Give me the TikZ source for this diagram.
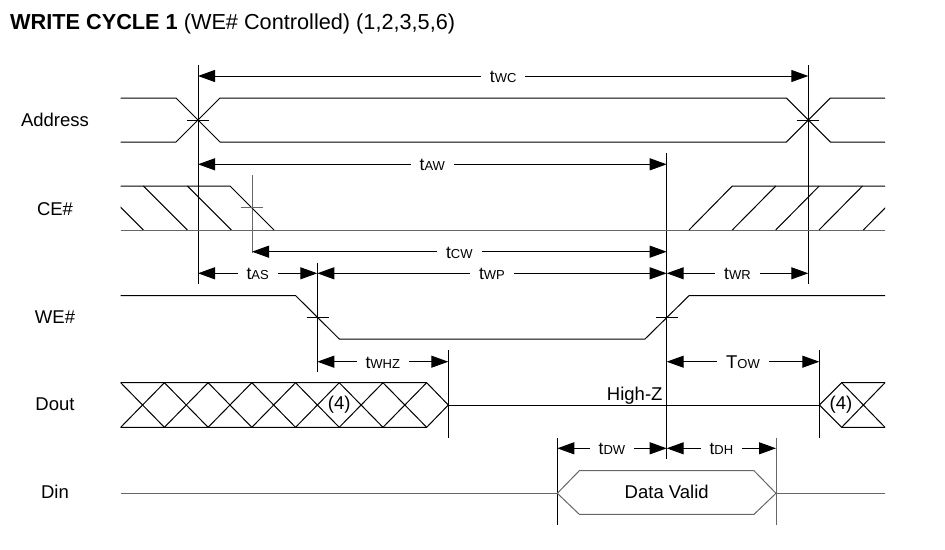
\documentclass[tikz,border=0pt]{standalone}
\usepackage{fontspec}
\setmainfont{Liberation Sans}
\usetikzlibrary{arrows.meta}
\newcommand\tlab[2]{{\fontsize{17.5}{17.5}\selectfont #1}{\fontsize{13}{13}\selectfont #2}}
\begin{document}
\begin{tikzpicture}[x=1pt,y=-1pt,
  sig/.style={line width=1pt,line join=miter},
  gsig/.style={line width=1pt,draw=black!60},
  dimarrow/.style={line width=1pt,{Triangle[length=17pt,width=12pt]}-{Triangle[length=17pt,width=12pt]}},
  tl/.style={fill=white,inner xsep=9pt,inner ysep=1pt,anchor=base,yshift=-6.3pt},
  siglbl/.style={font=\fontsize{18.5}{18.5}\selectfont,anchor=base,inner sep=0pt},
  txt/.style={font=\fontsize{18.5}{18.5}\selectfont,inner sep=0pt},
  guide/.style={line width=1pt},
  gguide/.style={line width=1pt,draw=black!60}]
\useasboundingbox (0,0) rectangle (945,549);

% title
\node[anchor=base west,inner sep=0pt] (title) at (10,29.3)
  {\fontsize{21.7}{21.7}\selectfont\textbf{WRITE CYCLE 1} (WE\# Controlled) (1,2,3,5,6)};

% signal names
\node[siglbl] (lAddr) at (55,126) {Address};
\node[siglbl] (lCE) at (55,215) {CE\#};
\node[siglbl] (lWE) at (55,323.3) {WE\#};
\node[siglbl] (lDout) at (55,410) {Dout};
\node[siglbl] (lDin) at (55,498.3) {Din};

% key time coordinates
\coordinate (wcL) at (198,76);      \coordinate (wcR) at (808.3,76);
\coordinate (awL) at (198,164.3);   \coordinate (awR) at (666.7,164.3);
\coordinate (cwL) at (252,251.7);   \coordinate (cwR) at (666.7,251.7);
\coordinate (asL) at (198,273.3);   \coordinate (asR) at (317.3,273.3);
\coordinate (wpL) at (317.3,273.3); \coordinate (wpR) at (666.7,273.3);
\coordinate (wrL) at (666.7,273.3); \coordinate (wrR) at (808.3,273.3);
\coordinate (hzL) at (317.3,361.7); \coordinate (hzR) at (448.3,361.7);
\coordinate (owL) at (666.7,361.7); \coordinate (owR) at (819.3,361.7);
\coordinate (dwL) at (557.3,448.3); \coordinate (dwR) at (666.7,448.3);
\coordinate (dhL) at (666.7,448.3); \coordinate (dhR) at (776,448.3);

% vertical guide lines
\draw[guide] (198,65) -- (198,284);
\draw[guide] (808.3,65) -- (808.3,284);
\draw[guide] (666.7,153) -- (666.7,459);
\draw[gguide] (252,175) -- (252,253);
\draw[guide] (317.3,262.7) -- (317.3,372);
\draw[guide] (448.3,350) -- (448.3,438.3);
\draw[guide] (819.3,350) -- (819.3,438.3);
\draw[guide] (557.3,438.3) -- (557.3,525);
\draw[gguide] (776,437.7) -- (776,525);

% Address
\draw[sig] (120.7,98) -- (176,98) -- (220,142) -- (786.3,142) -- (830.3,98) -- (885,98);
\draw[sig] (120.7,142) -- (176,142) -- (220,98) -- (786.3,98) -- (830.3,142) -- (885,142);
\draw[sig] (187,120) -- (209,120);
\draw[sig] (797.3,120) -- (819.3,120);

% CE#
\draw[gsig] (120.7,230) -- (885,230);
\draw[sig] (120.7,186) -- (230,186) -- (274,230);
\begin{scope}
  \clip (120.7,185) rectangle (885,231);
  \foreach \a in {99.3,143.3,187.3} \draw[sig] (\a,186) -- ({\a+44},230);
  \foreach \a in {732.3,775.7,819,863.3} \draw[sig] (\a,230) -- ({\a+43.5},186);
\end{scope}
\draw[sig] (689,230) -- (732.3,186) -- (885,186);
\draw[gsig] (240.7,207.7) -- (263.3,207.7);

% WE#
\draw[sig] (120.7,295.7) -- (295.7,295.7) -- (339.3,339) -- (645,339) -- (689,295.7) -- (885,295.7);
\draw[sig] (306.7,317.3) -- (328.7,317.3);
\draw[sig] (656,317.3) -- (677.7,317.3);

% Dout
\draw[sig] (120.7,382.7) -- (426.7,382.7) -- (448.3,405) -- (426.7,427.3) -- (120.7,427.3);
\foreach \k in {0,...,6}{
  \pgfmathsetmacro\xa{120.7+43.71*\k}
  \pgfmathsetmacro\xb{120.7+43.71*(\k+1)}
  \draw[sig] (\xa,382.7) -- (\xb,427.3);
  \draw[sig] (\xa,427.3) -- (\xb,382.7);
}
\draw[sig] (448.3,405) -- (819.3,405);
\draw[sig] (885,382.7) -- (841.7,382.7) -- (819.3,405) -- (841.7,427.3) -- (885,427.3);
\draw[sig] (841.7,382.7) -- (885,427.3);
\draw[sig] (841.7,427.3) -- (885,382.7);
\node[txt] (n4a) at (339.3,405) {(4)};
\node[txt] (n4b) at (841,405) {(4)};
\node[txt,anchor=base east] (hiz) at (662.7,400) {High-Z};

% Din
\draw[gsig] (120.7,493.3) -- (557.3,493.3);
\draw[gsig] (776,493.3) -- (885,493.3);
\draw[gsig] (557.3,493.3) -- (579.3,470.7) -- (754,470.7) -- (776,493.3) -- (754,514.3) -- (579.3,514.3) -- cycle;
\node[txt,anchor=base] (dv) at (666.7,498.3) {Data Valid};

% dimension arrows
\draw[dimarrow] (wcL) -- (wcR) node[midway,tl] {\tlab{t}{WC}};
\draw[dimarrow] (awL) -- (awR) node[midway,tl] {\tlab{t}{AW}};
\draw[dimarrow] (cwL) -- (cwR) node[midway,tl] {\tlab{t}{CW}};
\draw[dimarrow] (asL) -- (asR) node[midway,tl] {\tlab{t}{AS}};
\draw[dimarrow] (wpL) -- (wpR) node[midway,tl] {\tlab{t}{WP}};
\draw[dimarrow] (wrL) -- (wrR) node[midway,tl] {\tlab{t}{WR}};
\draw[dimarrow] (hzL) -- (hzR) node[midway,tl] {\tlab{t}{WHZ}};
\draw[dimarrow] (owL) -- (owR) node[midway,tl] {{\fontsize{18.5}{18.5}\selectfont T}{\fontsize{13}{13}\selectfont OW}};
\draw[dimarrow] (dwL) -- (dwR) node[midway,tl] {\tlab{t}{DW}};
\draw[dimarrow] (dhL) -- (dhR) node[midway,tl] {\tlab{t}{DH}};
\end{tikzpicture}
\end{document}
